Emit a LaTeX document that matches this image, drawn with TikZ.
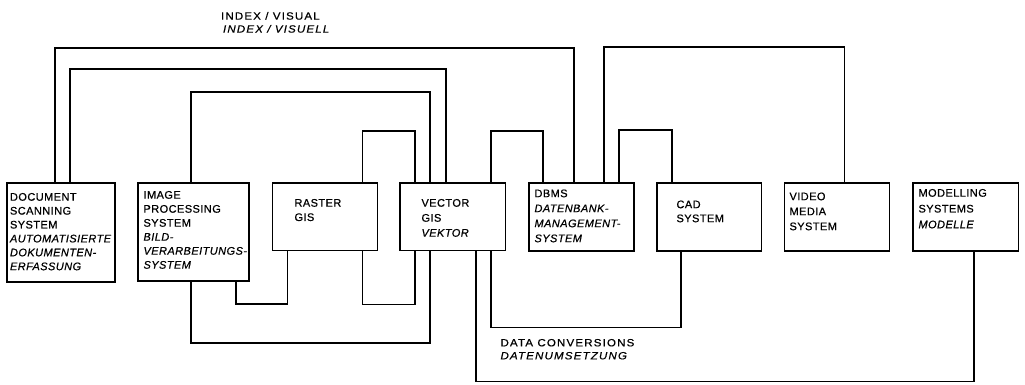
\documentclass[tikz,border=0pt]{standalone}
\usepackage{fontspec}
\setmainfont{Liberation Sans}
\newfontfamily\trackedsans[LetterSpace=4,FakeBold=0.6]{Liberation Sans}
\newfontfamily\widesans[LetterSpace=11,FakeStretch=1.1,FakeBold=0.6]{Liberation Sans}
\begin{document}
\begin{tikzpicture}[x=1pt,y=-1pt,line width=1.6pt,
  box/.style={draw,rectangle,inner sep=0pt,outer sep=0pt,anchor=north west},
  txt/.style={inner sep=0pt,outer sep=0pt,anchor=north west,align=left},
  boxtext/.style={txt,font=\trackedsans\fontsize{11}{#1}\selectfont},
  boxtext/.default=14,
  caption/.style={txt,font=\widesans\fontsize{10.5}{13}\selectfont},
  link/.style={draw,line join=miter}]
\useasboundingbox (0,0) rectangle (1025,384);

% system boxes
\node[box,minimum width=108pt,minimum height=99pt]   (doc)    at (7,183)     {};
\node[box,minimum width=111pt,minimum height=98pt]   (image)  at (138,183)   {};
\node[box,minimum width=105pt,minimum height=67.5pt] (raster) at (272.5,183) {};
\node[box,minimum width=105.5pt,minimum height=67.5pt] (vector) at (400,183) {};
\node[box,minimum width=105pt,minimum height=68pt]   (dbms)   at (529,183)   {};
\node[box,minimum width=104.5pt,minimum height=68pt] (cad)    at (657,183)   {};
\node[box,minimum width=105pt,minimum height=68pt]   (video)  at (784.5,183) {};
\node[box,minimum width=105.5pt,minimum height=68pt] (model)  at (913,183)   {};

% box inscriptions
\node[boxtext=13.9] (docT) at ([shift={(3,10)}]doc.north west)
  {DOCUMENT\\SCANNING\\SYSTEM\\\textit{AUTOMATISIERTE}\\\textit{DOKUMENTEN-}\\\textit{ERFASSUNG}};
\node[boxtext=14] (imageT) at ([shift={(5.5,8)}]image.north west)
  {IMAGE\\PROCESSING\\SYSTEM\\\textit{BILD-}\\\textit{VERARBEITUNGS-}\\\textit{SYSTEM}};
\node[boxtext=14.3] (rasterT) at ([shift={(22,16)}]raster.north west)
  {RASTER\\GIS};
\node[boxtext=15] (vectorT) at ([shift={(21.5,16)}]vector.north west)
  {VECTOR\\GIS\\\textit{VEKTOR}};
\node[boxtext=15] (dbmsT) at ([shift={(5.5,6.5)}]dbms.north west)
  {DBMS\\\textit{DATENBANK-}\\\textit{MANAGEMENT-}\\\textit{SYSTEM}};
\node[boxtext=14] (cadT) at ([shift={(19.5,17.5)}]cad.north west)
  {CAD\\SYSTEM};
\node[boxtext=15] (videoT) at ([shift={(5,9.5)}]video.north west)
  {VIDEO\\MEDIA\\SYSTEM};
\node[boxtext=15.8] (modelT) at ([shift={(5.5,6)}]model.north west)
  {MODELLING\\SYSTEMS\\\textit{MODELLE}};

% group captions
\node[caption] (index) at (221,12) {INDEX / VISUAL\\\hspace{2pt}\textit{INDEX / VISUELL}};
\node[caption] (conv)  at (500.5,339) {DATA CONVERSIONS\\\textit{DATENUMSETZUNG}};

% links routed above the boxes
\draw[link] ([xshift=48pt]doc.north west)    -- ++(0,-135) -| ([xshift=45pt]dbms.north west);
\draw[link] ([xshift=63pt]doc.north west)    -- ++(0,-114) -| ([xshift=46pt]vector.north west);
\draw[link] ([xshift=53pt]image.north west)  -- ++(0,-91)  -| ([xshift=30pt]vector.north west);
\draw[link] ([xshift=90pt]raster.north west) -- ++(0,-52)  -| ([xshift=15pt]vector.north west);
\draw[link] ([xshift=91pt]vector.north west) -- ++(0,-52)  -| ([xshift=14pt]dbms.north west);
\draw[link] ([xshift=75pt]dbms.north west)   -- ++(0,-136) -| ([xshift=60pt]video.north west);
\draw[link] ([xshift=90pt]dbms.north west)   -- ++(0,-53)  -| ([xshift=15pt]cad.north west);

% links routed below the boxes
\draw[link] ([xshift=98pt]image.south west)  -- ++(0,23)  -| ([xshift=15pt]raster.south west);
\draw[link] ([xshift=90pt]raster.south west) -- ++(0,54)  -| ([xshift=15pt]vector.south west);
\draw[link] ([xshift=53pt]image.south west)  -- ++(0,62)  -| ([xshift=30pt]vector.south west);
\draw[link] ([xshift=91pt]vector.south west) -- ++(0,77)  -| ([xshift=24pt]cad.south west);
\draw[link] ([xshift=76pt]vector.south west) -- ++(0,131) -| ([xshift=61pt]model.south west);
\end{tikzpicture}
\end{document}
